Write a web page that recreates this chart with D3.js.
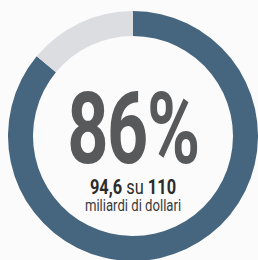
<!DOCTYPE html>
<html><head><meta charset="utf-8">
<script src="https://cdn.jsdelivr.net/npm/d3@7"></script>
<style>
html,body{margin:0;padding:0;background:#fbfbfb;}
svg{display:block;}
text{font-family:"Roboto","Liberation Sans",sans-serif;}
</style></head>
<body>
<svg id="chart" width="258" height="260"></svg>
<script>
const categories = ["Raccolti", "Mancanti"];
const values = [94.6, 110 - 94.6];
const percentLabel = "86%";
const partLabel = "94,6";
const totalLabel = "110";
const unitLabel = "miliardi di dollari";

const W = 258, H = 260, cx = 133, cy = 136, rOuter = 125, rInner = 100;
const svg = d3.select("#chart");
const color = d3.scaleOrdinal().domain(categories).range(["#46667f", "#dcdde0"]);
const pie = d3.pie().sort(null).value(d => d.v);
const arc = d3.arc().innerRadius(rInner).outerRadius(rOuter);
const data = categories.map((c, i) => ({c, v: values[i]}));
const g = svg.append("g").attr("transform", `translate(${cx},${cy})`);
g.selectAll("path").data(pie(data)).join("path")
  .attr("d", arc).attr("fill", d => color(d.data.c));

// big percentage (condensed via horizontal scale)
g.append("g").attr("transform", "translate(0,27) scale(0.72,1)")
  .append("text").attr("text-anchor", "middle")
  .attr("font-size", 100).attr("font-weight", "bold").attr("fill", "#58595b")
  .attr("letter-spacing", -2)
  .text(percentLabel);

// second line: separate texts laid out by measured widths
const l2 = g.append("g").attr("transform", "translate(0,58) scale(0.82,1)");
const parts = [
  {t: partLabel, w: "bold"},
  {t: "su", w: "normal"},
  {t: totalLabel, w: "bold"}
];
const gap = 5;
const nodes = parts.map(p => l2.append("text").attr("font-size", 20)
  .attr("font-weight", p.w).attr("fill", "#2b2b2b").text(p.t));
const widths = nodes.map(n => n.node().getComputedTextLength());
const total = widths.reduce((a, b) => a + b, 0) + gap * (parts.length - 1);
let x = -total / 2;
nodes.forEach((n, i) => { n.attr("x", x); x += widths[i] + gap; });

g.append("g").attr("transform", "translate(0,75) scale(0.82,1)")
  .append("text").attr("text-anchor", "middle")
  .attr("font-size", 16).attr("fill", "#3a3a3a").text(unitLabel);
</script>
</body></html>
